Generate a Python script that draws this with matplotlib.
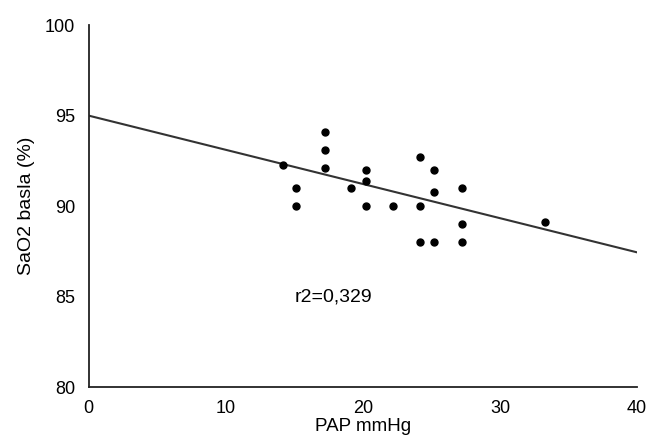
import matplotlib.pyplot as plt
import numpy as np

plt.rcParams['font.family'] = ['Liberation Sans', 'DejaVu Sans']

# PAP (mmHg) vs basal SaO2 (%)
pap = [14.2, 15.1, 15.1, 17.2, 17.2, 17.2, 19.1, 20.2, 20.2, 20.2, 22.2,
       24.2, 24.2, 24.2, 25.2, 25.2, 25.2, 27.2, 27.2, 27.2, 33.3]
sao2 = [92.3, 91.0, 90.0, 94.1, 93.1, 92.1, 91.0, 92.0, 91.4, 90.0, 90.0,
        92.7, 90.0, 88.0, 92.0, 90.8, 88.0, 91.0, 89.0, 88.0, 89.1]

# regression line end points
fit_x = [0, 40]
fit_y = [95.0, 87.45]

fig, ax = plt.subplots(figsize=(6.48, 4.41), dpi=100)
fig.subplots_adjust(left=0.137, right=0.983, bottom=0.122, top=0.943)

ax.plot(fit_x, fit_y, color='#333333', lw=1.5)
ax.plot(pap, sao2, 'o', color='black', ms=5)
ax.text(15.0, 85, 'r2=0,329', fontsize=14, va='center')

ax.set_xlim(0, 40)
ax.set_ylim(80, 100)
ax.set_xticks([0, 10, 20, 30, 40])
ax.set_yticks([80, 85, 90, 95, 100])
ax.tick_params(length=0, labelsize=13)
ax.tick_params(axis='x', pad=9)
ax.tick_params(axis='y', pad=10)
ax.spines['top'].set_visible(False)
ax.spines['right'].set_visible(False)
for s in ['left', 'bottom']:
    ax.spines[s].set_linewidth(1.3)
    ax.spines[s].set_color('#222222')
ax.set_xlabel('PAP mmHg', fontsize=13.5, labelpad=1)
ax.set_ylabel('SaO2 basla (%)', fontsize=14, labelpad=7)

fig.savefig('out.png', dpi=100)
